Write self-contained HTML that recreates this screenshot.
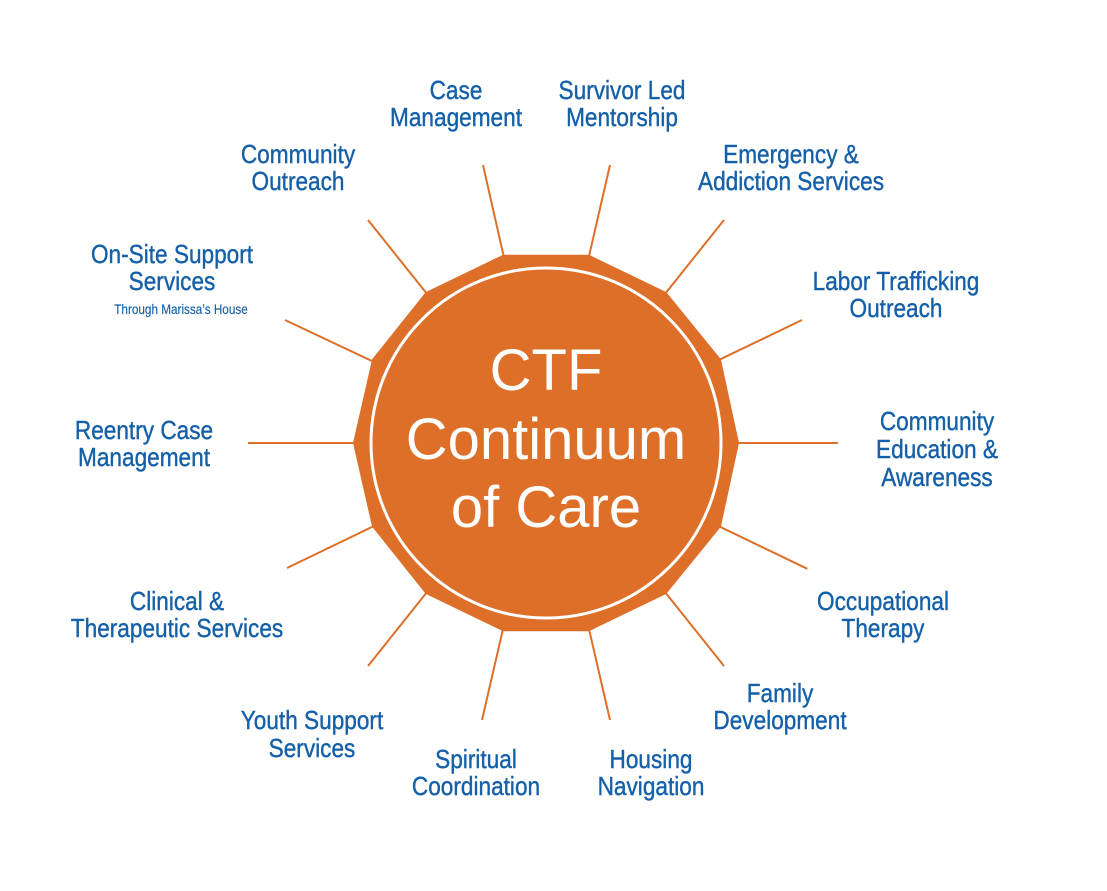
<!DOCTYPE html>
<html><head><meta charset="utf-8"><style>
html,body{margin:0;padding:0;background:#fff;}
svg{display:block;}
.l{font-family:"Liberation Sans",Arial,sans-serif;font-size:26px;fill:#1560a8;stroke:#1560a8;stroke-width:0.4;}
.c{font-family:"Liberation Sans",Arial,sans-serif;font-size:58px;fill:#fff;}
</style></head><body>
<svg width="1107" height="891" viewBox="0 0 1107 891" xmlns="http://www.w3.org/2000/svg">
<g stroke="#dd6f29" stroke-width="2">
<line x1="546" y1="443" x2="838" y2="443"/>
<line x1="546" y1="443" x2="807.3" y2="568.8"/>
<line x1="546" y1="443" x2="724" y2="666"/>
<line x1="546" y1="443" x2="610" y2="720"/>
<line x1="546" y1="443" x2="482" y2="720"/>
<line x1="546" y1="443" x2="368" y2="666"/>
<line x1="546" y1="443" x2="287" y2="568"/>
<line x1="546" y1="443" x2="248" y2="443"/>
<line x1="546" y1="443" x2="285" y2="320"/>
<line x1="546" y1="443" x2="368" y2="220"/>
<line x1="546" y1="443" x2="483" y2="165"/>
<line x1="546" y1="443" x2="610" y2="165"/>
<line x1="546" y1="443" x2="724" y2="220"/>
<line x1="546" y1="443" x2="802" y2="320"/>
</g>
<polygon fill="#dd6f29" points="739,443 720.9,526.7 666.3,593.9 588.9,631.2 503.1,631.2 425.7,593.9 372.1,526.7 353,443 372.1,359.3 425.7,292.1 503.1,254.8 588.9,254.8 666.3,292.1 720.9,359.3"/>
<circle cx="546" cy="443" r="175" fill="#dd6f29" stroke="#fff" stroke-width="3"/>
<text class="c" text-anchor="middle" x="546" y="390">CTF</text>
<text class="c" text-anchor="middle" x="546" y="459">Continuum</text>
<text class="c" text-anchor="middle" x="546" y="527">of Care</text>

<g class="l" text-anchor="middle">
<g transform="translate(456,0) scale(0.87,1)"><text x="0" y="99">Case</text><text x="0" y="126">Management</text></g>
<g transform="translate(622,0) scale(0.87,1)"><text x="0" y="99">Survivor Led</text><text x="0" y="126">Mentorship</text></g>
<g transform="translate(298,0) scale(0.87,1)"><text x="0" y="163">Community</text><text x="0" y="190">Outreach</text></g>
<g transform="translate(791,0) scale(0.87,1)"><text x="0" y="163">Emergency &amp;</text><text x="0" y="190">Addiction Services</text></g>
<g transform="translate(172,0) scale(0.87,1)"><text x="0" y="263">On-Site Support</text><text x="0" y="290">Services</text></g>
<g transform="translate(181,0) scale(0.87,1)"><text x="0" y="314" style="font-size:13.5px;stroke-width:0.15">Through Marissa’s House</text></g>
<g transform="translate(896,0) scale(0.87,1)"><text x="0" y="290">Labor Trafficking</text><text x="0" y="317">Outreach</text></g>
<g transform="translate(144,0) scale(0.87,1)"><text x="0" y="439">Reentry Case</text><text x="0" y="466">Management</text></g>
<g transform="translate(937,0) scale(0.87,1)"><text x="0" y="430">Community</text><text x="0" y="458">Education &amp;</text><text x="0" y="486">Awareness</text></g>
<g transform="translate(177,0) scale(0.87,1)"><text x="0" y="610">Clinical &amp;</text><text x="0" y="637">Therapeutic Services</text></g>
<g transform="translate(883,0) scale(0.87,1)"><text x="0" y="610">Occupational</text><text x="0" y="637">Therapy</text></g>
<g transform="translate(312,0) scale(0.87,1)"><text x="0" y="729">Youth Support</text><text x="0" y="757">Services</text></g>
<g transform="translate(780,0) scale(0.87,1)"><text x="0" y="702">Family</text><text x="0" y="729">Development</text></g>
<g transform="translate(476,0) scale(0.87,1)"><text x="0" y="768">Spiritual</text><text x="0" y="795">Coordination</text></g>
<g transform="translate(651,0) scale(0.87,1)"><text x="0" y="768">Housing</text><text x="0" y="795">Navigation</text></g>
</g>
</svg>
</body></html>
